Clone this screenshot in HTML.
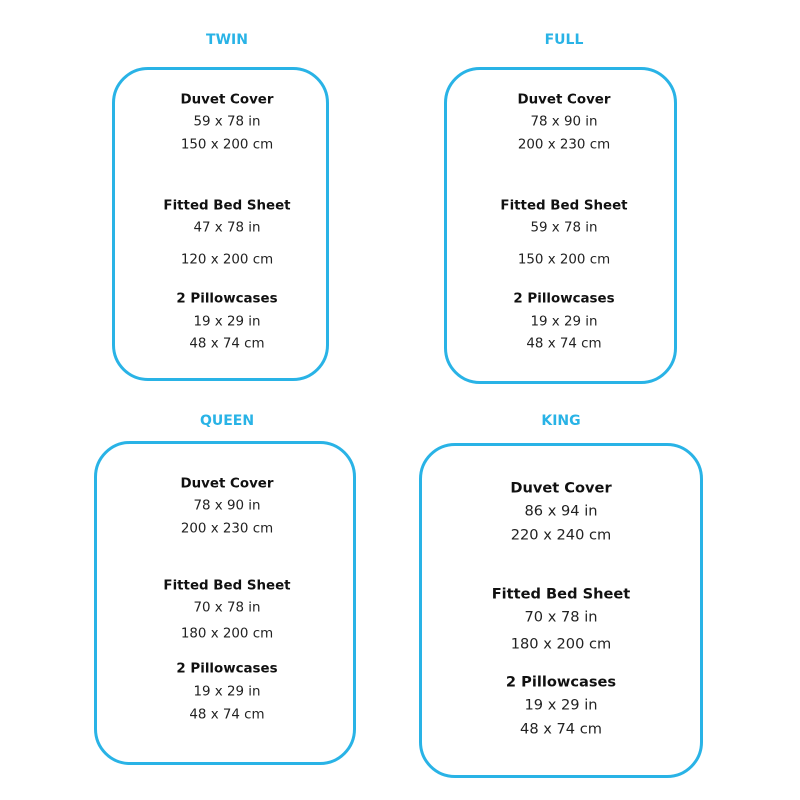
<!DOCTYPE html>
<html><head><meta charset="utf-8"><style>
body{margin:0;width:800px;height:800px;background:#fff;position:relative;font-family:"DejaVu Sans","Liberation Sans",sans-serif;overflow:hidden}
.box{position:absolute;border:3px solid #29b3e6;border-radius:36px;box-sizing:border-box}
.t{position:absolute;transform:translate(-50%,-50%);white-space:nowrap;font-size:13.4px;color:#222;margin-top:1px}
.b{font-weight:bold;color:#111}
.h{font-weight:bold;color:#29b3e6;font-size:14px}
.k{font-size:14.6px}
</style></head><body>
<div class="box" style="left:112px;top:67px;width:217px;height:314px"></div>
<div class="box" style="left:444px;top:67px;width:233px;height:317px"></div>
<div class="box" style="left:94px;top:441px;width:262px;height:324px"></div>
<div class="box" style="left:419px;top:443px;width:284px;height:335px"></div>

<div class="t h" style="left:227px;top:39px">TWIN</div>
<div class="t h" style="left:564px;top:39px">FULL</div>
<div class="t h" style="left:227px;top:420px">QUEEN</div>
<div class="t h" style="left:561px;top:420px">KING</div>

<div class="t b" style="left:227px;top:99px">Duvet Cover</div>
<div class="t" style="left:227px;top:121px">59 x 78 in</div>
<div class="t" style="left:227px;top:144px">150 x 200 cm</div>
<div class="t b" style="left:227px;top:205px">Fitted Bed Sheet</div>
<div class="t" style="left:227px;top:227px">47 x 78 in</div>
<div class="t" style="left:227px;top:259px">120 x 200 cm</div>
<div class="t b" style="left:227px;top:298px">2 Pillowcases</div>
<div class="t" style="left:227px;top:321px">19 x 29 in</div>
<div class="t" style="left:227px;top:343px">48 x 74 cm</div>

<div class="t b" style="left:564px;top:99px">Duvet Cover</div>
<div class="t" style="left:564px;top:121px">78 x 90 in</div>
<div class="t" style="left:564px;top:144px">200 x 230 cm</div>
<div class="t b" style="left:564px;top:205px">Fitted Bed Sheet</div>
<div class="t" style="left:564px;top:227px">59 x 78 in</div>
<div class="t" style="left:564px;top:259px">150 x 200 cm</div>
<div class="t b" style="left:564px;top:298px">2 Pillowcases</div>
<div class="t" style="left:564px;top:321px">19 x 29 in</div>
<div class="t" style="left:564px;top:343px">48 x 74 cm</div>

<div class="t b" style="left:227px;top:483px">Duvet Cover</div>
<div class="t" style="left:227px;top:505px">78 x 90 in</div>
<div class="t" style="left:227px;top:528px">200 x 230 cm</div>
<div class="t b" style="left:227px;top:585px">Fitted Bed Sheet</div>
<div class="t" style="left:227px;top:607px">70 x 78 in</div>
<div class="t" style="left:227px;top:633px">180 x 200 cm</div>
<div class="t b" style="left:227px;top:668px">2 Pillowcases</div>
<div class="t" style="left:227px;top:691px">19 x 29 in</div>
<div class="t" style="left:227px;top:714px">48 x 74 cm</div>

<div class="t b k" style="left:561px;top:487px">Duvet Cover</div>
<div class="t k" style="left:561px;top:510px">86 x 94 in</div>
<div class="t k" style="left:561px;top:534px">220 x 240 cm</div>
<div class="t b k" style="left:561px;top:593px">Fitted Bed Sheet</div>
<div class="t k" style="left:561px;top:616px">70 x 78 in</div>
<div class="t k" style="left:561px;top:643px">180 x 200 cm</div>
<div class="t b k" style="left:561px;top:681px">2 Pillowcases</div>
<div class="t k" style="left:561px;top:704px">19 x 29 in</div>
<div class="t k" style="left:561px;top:728px">48 x 74 cm</div>
</body></html>
